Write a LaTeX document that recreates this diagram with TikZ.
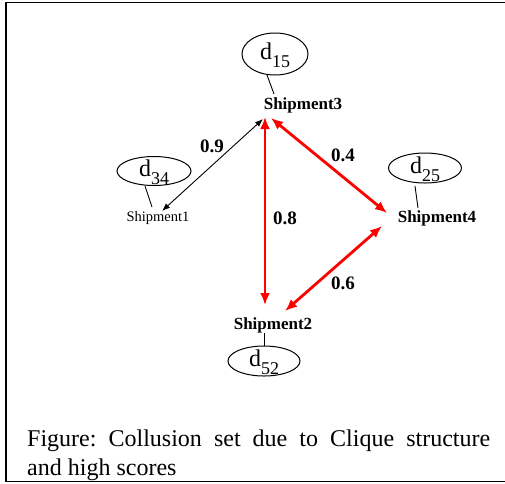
\documentclass[tikz,border=0pt]{standalone}
\usepackage{fontspec}
\setmainfont{Liberation Serif}
\usetikzlibrary{arrows.meta,shapes.geometric}
\newcommand\dlab[1]{\raisebox{-5pt}[0pt][0pt]{\fontsize{24}{24}\selectfont d\raisebox{-8pt}{\fontsize{18}{18}\selectfont #1}}}
\begin{document}
\frenchspacing
\begin{tikzpicture}[x=1pt,y=-1pt,
  dnode/.style={ellipse, draw, line width=1pt, inner sep=0pt},
  ship/.style={inner sep=0pt, font=\fontsize{17}{17}\selectfont\bfseries},
  shipr/.style={inner sep=0pt, font=\fontsize{14.5}{14.5}\selectfont},
  wlabel/.style={inner sep=0pt, font=\fontsize{19}{19}\selectfont\bfseries},
  redarr/.style={draw=red, line width=2.8pt, {Latex[length=12pt,width=10pt]}-{Latex[length=12pt,width=10pt]}},
  blkarr/.style={draw=black, line width=0.9pt, {Latex[length=8pt,width=6pt]}-{Latex[length=8pt,width=6pt]}},
  tie/.style={line width=0.9pt},
  frame/.style={line width=#1}
]
\useasboundingbox (0,0) rectangle (505,483);
% frame
\draw[frame=2pt] (6,2) -- (6,482);
\draw[frame=1.5pt] (5,2.5) -- (505,2.5);
\draw[frame=1.3pt] (5,481.5) -- (505,481.5);

% nodes
\node[dnode, minimum width=66pt, minimum height=42pt] (d15) at (275,54) {\dlab{15}};
\node[dnode, minimum width=74pt, minimum height=29pt] (d34) at (154,171) {\dlab{34}};
\node[dnode, minimum width=73pt, minimum height=30pt] (d25) at (425,168) {\dlab{25}};
\node[dnode, minimum width=72pt, minimum height=30pt] (d52) at (264,361) {\dlab{52}};

\node[ship] (s3) at (303,105) {Shipment3};
\node[shipr] (s1) at (158,218) {Shipment1};
\node[ship] (s4) at (437,218) {Shipment4};
\node[ship] (s2) at (273,325) {Shipment2};

% ties
\draw[tie] ([shift={(-8,21)}]d15.center) -- ([shift={(-29,-11)}]s3.center);
\draw[tie] ([shift={(-9,15)}]d34.center) -- ([shift={(-6,-11)}]s1.center);
\draw[tie] ([shift={(-10,18)}]d25.center) -- ([shift={(-19,-10)}]s4.center);
\draw[tie] ([shift={(0,-15)}]d52.center) -- ([shift={(-9,8)}]s2.center);

% arrows
\draw[blkarr] ([shift={(-40,14)}]s3.center) -- ([shift={(4,-7)}]s1.center);
\draw[redarr] ([shift={(-38,12)}]s3.center) -- ([shift={(-8,-20)}]s2.center);
\draw[redarr] ([shift={(-32,13)}]s3.center) -- ([shift={(-50,-5)}]s4.center);
\draw[redarr] ([shift={(12,-14)}]s2.center) -- ([shift={(-55,8)}]s4.center);

% weights
\node[wlabel] (w9) at (212,146) {0.9};
\node[wlabel] (w8) at (285,218) {0.8};
\node[wlabel] (w4) at (343,155) {0.4};
\node[wlabel] (w6) at (343,283) {0.6};

% caption
\node[inner sep=0pt, anchor=north west, align=left, font=\fontsize{24}{29}\selectfont] (cap) at (27,430)
  {\makebox[463pt][s]{Figure: Collusion set due to Clique structure}\\and high scores};
\end{tikzpicture}
\end{document}
